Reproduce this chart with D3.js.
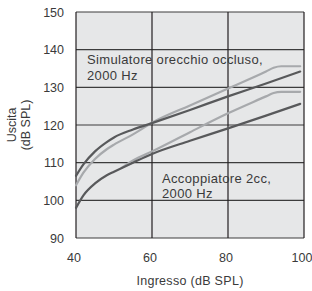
<!DOCTYPE html>
<html>
<head>
<meta charset="utf-8">
<script src="https://cdn.jsdelivr.net/npm/d3@7"></script>
<style>
  body { margin: 0; background: #fff; }
  text { font-family: "Liberation Sans", Arial, sans-serif; fill: #3a3a3a; }
</style>
</head>
<body>
<div id="chart"></div>
<script>
// values
const xTicks = [40, 60, 80, 100];
const yTicks = [90, 100, 110, 120, 130, 140, 150];

const simDark = [[40,106.5],[42,109.6],[45,113],[48,115.4],[50,116.7],[55,118.8],[60,120.5],[70,124],[80,127.6],[90,131],[99,134.2]];
const simLight = [[40,104],[42,107.4],[45,111],[48,113.5],[50,114.8],[55,117.5],[60,120.6],[70,125.2],[80,129.7],[90,134.2],[92,135.2],[94,135.6],[99,135.6]];
const cplDark = [[40,98],[42,101.4],[45,104.5],[48,106.6],[50,107.6],[55,110],[60,112.3],[70,115.8],[80,119.1],[90,122.5],[99,125.6]];
const cplLight = [[52,108.6],[55,110.6],[60,113],[70,118.1],[80,123.1],[90,127.6],[92,128.5],[94,128.8],[99,128.8]];

const series = [
  { pts: simLight, color: "#a7a9ac" },
  { pts: cplLight, color: "#a7a9ac" },
  { pts: simDark, color: "#58595b" },
  { pts: cplDark, color: "#58595b" }
];

const width = 312, height = 291;
const margin = { top: 12, right: 8, bottom: 53, left: 76 };
const fontSize = 12.5;

const svg = d3.select("#chart").append("svg")
    .attr("width", width)
    .attr("height", height);

const x = d3.scaleLinear().domain([40, 100]).range([margin.left, width - margin.right]);
const y = d3.scaleLinear().domain([90, 150]).range([height - margin.bottom, margin.top]);

// plot background
svg.append("rect")
    .attr("x", x(40)).attr("y", y(150))
    .attr("width", x(100) - x(40)).attr("height", y(90) - y(150))
    .attr("fill", "#e6e7e8");

// grid
svg.append("g").selectAll("line").data(yTicks).join("line")
    .attr("x1", x(40)).attr("x2", x(100))
    .attr("y1", d => y(d)).attr("y2", d => y(d))
    .attr("stroke", "#3c3c3c").attr("stroke-width", 1.2);

svg.append("g").selectAll("line").data(xTicks).join("line")
    .attr("x1", d => x(d)).attr("x2", d => x(d))
    .attr("y1", y(90)).attr("y2", y(150))
    .attr("stroke", "#231f20").attr("stroke-width", 1.2);

// curves
const line = d3.line()
    .x(d => x(d[0]))
    .y(d => y(d[1]))
    .curve(d3.curveMonotoneX);

svg.append("g").selectAll("path").data(series).join("path")
    .attr("d", d => line(d.pts))
    .attr("fill", "none")
    .attr("stroke", d => d.color)
    .attr("stroke-width", 2.2)
    .attr("stroke-linecap", "round");

// axes (labels only)
const xAxis = d3.axisBottom(x).tickValues(xTicks).tickSize(0).tickPadding(15);
const yAxis = d3.axisLeft(y).tickValues(yTicks).tickSize(0).tickPadding(12);

const gx = svg.append("g").attr("transform", `translate(0,${y(90)})`).call(xAxis);
const gy = svg.append("g").attr("transform", `translate(${x(40)},0)`).call(yAxis);
[gx, gy].forEach(g => {
  g.select(".domain").remove();
  g.selectAll("text").attr("font-size", fontSize).style("font-family", "Liberation Sans, Arial, sans-serif").attr("fill", "#3a3a3a");
});
gx.selectAll("text").attr("dx", -2.5);

// axis titles
svg.append("text")
    .attr("x", 190).attr("y", 285)
    .attr("text-anchor", "middle").attr("font-size", fontSize)
    .attr("letter-spacing", 0.3)
    .text("Ingresso (dB SPL)");

const yt = svg.append("text")
    .attr("transform", `translate(16,${125}) rotate(-90)`)
    .attr("text-anchor", "middle").attr("font-size", fontSize);
yt.append("tspan").attr("x", 0).attr("dy", 0).text("Uscita");
yt.append("tspan").attr("x", 0).attr("dy", 13.5).text("(dB SPL)");

// annotations
const notes = [
  { x: 87, y: 64, lines: ["Simulatore orecchio occluso,", "2000 Hz"], gap: 16 },
  { x: 162, y: 183, lines: ["Accoppiatore 2cc,", "2000 Hz"], gap: 15 }
];
notes.forEach(n => {
  const t = svg.append("text").attr("font-size", fontSize + 0.5).attr("letter-spacing", 0.35);
  n.lines.forEach((l, i) => t.append("tspan").attr("x", n.x).attr("y", n.y + i * n.gap).text(l));
});
</script>
</body>
</html>
